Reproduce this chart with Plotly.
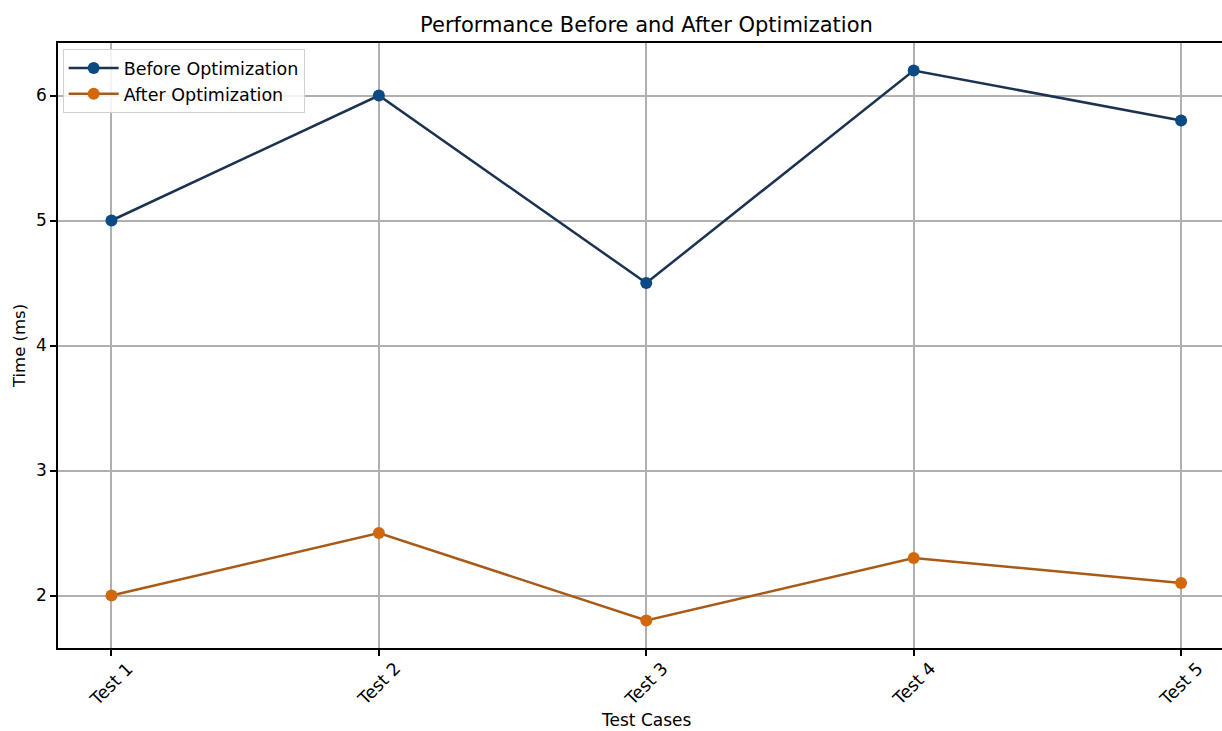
import plotly.graph_objects as go

categories = ["Test 1", "Test 2", "Test 3", "Test 4", "Test 5"]
before = [5.0, 6.0, 4.5, 6.2, 5.8]
after = [2.0, 2.5, 1.8, 2.3, 2.1]
y_ticks = [2, 3, 4, 5, 6]

x_idx = list(range(len(categories)))

fig = go.Figure()
fig.add_trace(go.Scatter(
    x=x_idx, y=before, mode="lines+markers", name="Before Optimization",
    line=dict(color="#1b3350", width=2.5),
    marker=dict(color="#0c4a84", size=12),
))
fig.add_trace(go.Scatter(
    x=x_idx, y=after, mode="lines+markers", name="After Optimization",
    line=dict(color="#a85a16", width=2.5),
    marker=dict(color="#d2680c", size=12),
))

# rotated category labels, centred under each tick (matplotlib style)
for i, lab in zip(x_idx, categories):
    fig.add_annotation(
        x=i, xref="x", y=0, yref="paper", yshift=-36,
        text=lab, textangle=-45, showarrow=False,
        xanchor="center", yanchor="middle",
        font=dict(size=17.5, color="black"),
    )

# x-axis title centred on the (partly cropped) axes
fig.add_annotation(
    x=0.505, xref="paper", y=0, yref="paper", yshift=-72,
    text="Test Cases", showarrow=False, xanchor="center", yanchor="middle",
    font=dict(size=17, color="black"),
)

font_family = "DejaVu Sans, sans-serif"
fig.update_layout(
    width=1222, height=731,
    paper_bgcolor="white", plot_bgcolor="white",
    margin=dict(l=58, r=0, t=43, b=83, autoexpand=False),
    font=dict(family=font_family, size=16, color="black"),
    title=dict(text="Performance Before and After Optimization", x=0.529, xanchor="center",
               y=0.966, yanchor="middle", font=dict(size=21, color="black")),
    showlegend=True,
    legend=dict(x=0.004, y=0.99, xanchor="left", yanchor="top",
                bgcolor="rgba(255,255,255,0.85)", bordercolor="#d0d0d0", borderwidth=1,
                font=dict(size=17.5), tracegroupgap=0, itemwidth=50),
    xaxis=dict(
        range=[-0.2, 4.153], tickmode="array", tickvals=x_idx, showticklabels=False,
        showgrid=True, gridcolor="#b0b0b0", gridwidth=1.5,
        showline=True, linecolor="black", linewidth=1.5, mirror=True,
        ticks="outside", ticklen=6, tickwidth=1.5, tickcolor="black",
        zeroline=False, automargin=False,
    ),
    yaxis=dict(
        range=[1.58, 6.42], tickmode="array", tickvals=y_ticks,
        showgrid=True, gridcolor="#b0b0b0", gridwidth=1.5,
        showline=True, linecolor="black", linewidth=1.5, mirror=False,
        ticks="outside", ticklen=6, tickwidth=1.5, tickcolor="black",
        zeroline=False, tickfont=dict(size=17), automargin=False,
        title=dict(text="Time (ms)", font=dict(size=16.5), standoff=6),
    ),
)

fig.write_html(
    "out.html",
    config={"displayModeBar": False},
    post_script="document.body.style.margin='0';document.body.style.overflow='hidden';",
)
